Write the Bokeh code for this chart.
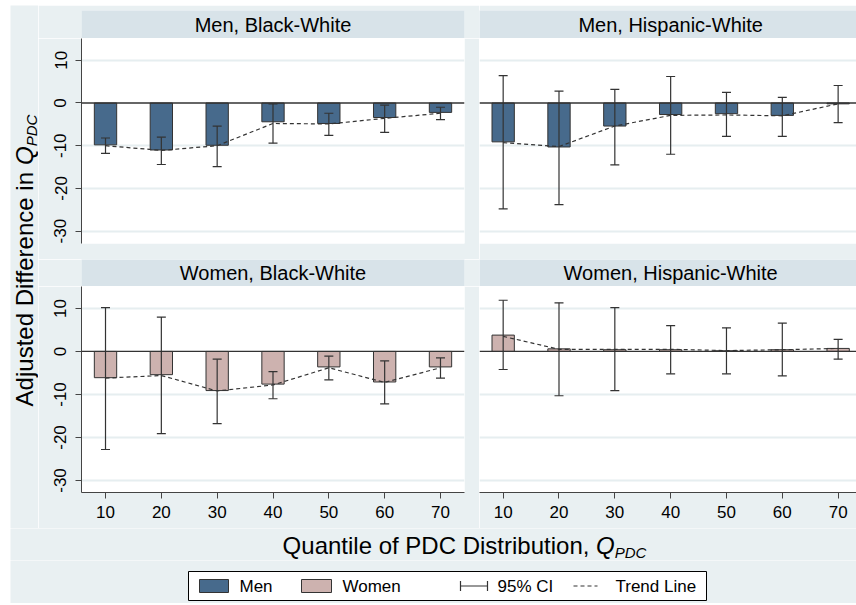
import math
from bokeh.plotting import figure
from bokeh.layouts import column, row
from bokeh.models import (Range1d, LinearAxis, FixedTicker, Grid, Span, Whisker,
                          TeeHead, ColumnDataSource)
from bokeh.core.properties import value
from bokeh.embed import file_html
from bokeh.resources import INLINE

# ---------------- data ----------------
quantiles = [10, 20, 30, 40, 50, 60, 70]
x_tick_labels = ["10", "20", "30", "40", "50", "60", "70"]
y_ticks = [-30, -20, -10, 0, 10]
y_tick_labels = ["-30", "-20", "-10", "0", "10"]
grid_ticks = [-30, -20, -10, 10]

panel_titles = ["Men, Black-White", "Men, Hispanic-White",
                "Women, Black-White", "Women, Hispanic-White"]

men_bw_est = [-9.8, -11.0, -9.9, -4.4, -4.8, -3.4, -2.2]
men_bw_lo = [-11.8, -14.4, -14.9, -9.4, -7.6, -6.9, -3.9]
men_bw_hi = [-8.2, -8.0, -5.4, -0.2, -2.4, -0.5, -1.0]
men_bw_trend = [-10.0, -11.1, -10.0, -4.8, -4.9, -3.6, -2.4]

men_hw_est = [-9.1, -10.3, -5.4, -2.7, -2.5, -2.9, -0.2]
men_hw_lo = [-24.8, -23.8, -14.5, -12.0, -7.8, -7.8, -4.6]
men_hw_hi = [6.4, 2.8, 3.2, 6.2, 2.5, 1.3, 4.1]
men_hw_trend = [-9.3, -10.2, -5.4, -2.9, -2.8, -3.0, -0.2]

women_bw_est = [-6.1, -5.4, -9.1, -7.6, -3.6, -7.1, -3.6]
women_bw_lo = [-22.8, -19.1, -16.8, -11.0, -6.6, -12.2, -6.2]
women_bw_hi = [10.2, 8.0, -1.8, -4.7, -1.1, -2.2, -1.5]
women_bw_trend = [-6.2, -5.6, -9.2, -7.8, -3.8, -7.2, -3.8]

women_hw_est = [3.8, 0.6, 0.4, 0.4, 0.15, 0.4, 0.7]
women_hw_lo = [-4.2, -10.3, -9.1, -5.2, -5.2, -5.7, -1.8]
women_hw_hi = [11.9, 11.3, 10.2, 6.0, 5.5, 6.6, 2.8]
women_hw_trend = [3.5, 0.5, 0.5, 0.5, 0.2, 0.4, 0.7]

y_title_main = "Adjusted Difference in "
x_title_main = "Quantile of PDC Distribution, "
title_q = "Q"
title_sub = "PDC"
legend_labels = ["Men", "Women", "95% CI", "Trend Line"]

# ---------------- style ----------------
BG = "#E9F0F2"
HDR = "#D8E3E9"
GRID = "#E6EEF0"
MEN = "#476A8C"
WOMEN = "#CDB2AF"
INK = "#333333"
AX = "#444444"
FONT = "Liberation Sans"

XL = (5.70, 74.30)
XR = (5.76, 73.29)
YT = (-32.9, 15.1)
YB = (-32.8, 15.1)

# Arial / Liberation Sans advance widths (per 1000 em)
CW = {" ": 278, "A": 667, "d": 556, "j": 222, "u": 556, "s": 500, "t": 278,
      "e": 556, "D": 722, "i": 222, "f": 278, "r": 333, "n": 556, "c": 500,
      "Q": 778, "P": 667, "C": 722, "a": 556, "l": 222, "o": 556, "b": 556,
      ",": 278}


def text_w(s, px):
    return sum(CW.get(ch, 556) for ch in s) / 1000.0 * px


def base_fig(w, h, xr, yr, left=0, right=0, top=0, bottom=0):
    p = figure(width=w, height=h, x_range=Range1d(*xr), y_range=Range1d(*yr),
               x_axis_location=None, y_axis_location=None, tools="",
               toolbar_location=None, output_backend="svg")
    p.min_border = 0
    p.min_border_left = left
    p.min_border_right = right
    p.min_border_top = top
    p.min_border_bottom = bottom
    p.outline_line_color = None
    p.border_fill_color = BG
    p.background_fill_color = "white"
    p.grid.visible = False
    return p


def header(w, h, xr, title, left=0, right=0, top=0):
    p = base_fig(w, h, xr, (0, 1), left=left, right=right, top=top)
    p.background_fill_color = HDR
    cx = (XL[0] + XL[1]) / 2.0
    p.text(x=[cx], y=[0.5], text=[title], text_align="center",
           text_baseline="middle", text_font=value(FONT),
           text_font_size="20px", text_color="black")
    return p


def panel(w, h, xr, yr, est, lo, hi, trend, color, left_axis, bottom_axis,
          left=0, right=0, bottom=0):
    p = base_fig(w, h, xr, yr, left=left, right=right, bottom=bottom)
    p.add_layout(Grid(dimension=1, ticker=FixedTicker(ticks=grid_ticks),
                      grid_line_color=GRID, grid_line_width=2))
    src = ColumnDataSource(dict(x=quantiles, est=est, lo=lo, hi=hi, trend=trend))
    p.vbar(x="x", top="est", bottom=0, width=4, source=src,
           fill_color=color, line_color=INK, line_width=1)
    p.add_layout(Span(location=0, dimension="width", line_color=INK,
                      line_width=1.3))
    wk = Whisker(source=src, base="x", upper="hi", lower="lo",
                 line_color=INK, line_width=1.2, level="annotation",
                 upper_head=TeeHead(size=9, line_color=INK, line_width=1.2),
                 lower_head=TeeHead(size=9, line_color=INK, line_width=1.2))
    p.add_layout(wk)
    p.line("x", "trend", source=src, line_dash="4 3", line_color=INK,
           line_width=1.2)
    if left_axis:
        ax = LinearAxis(ticker=FixedTicker(ticks=y_ticks),
                        major_label_overrides={t: l for t, l in zip(y_ticks, y_tick_labels)},
                        major_label_orientation="parallel",
                        major_tick_out=6, major_tick_in=0,
                        minor_tick_line_color=None,
                        axis_line_color=AX, major_tick_line_color=AX,
                        major_label_text_font=FONT,
                        major_label_text_font_size="17px",
                        major_label_text_color="black",
                        major_label_standoff=9)
        p.add_layout(ax, "left")
    if bottom_axis:
        bx = LinearAxis(ticker=FixedTicker(ticks=quantiles),
                        major_label_overrides={t: l for t, l in zip(quantiles, x_tick_labels)},
                        major_tick_out=6, major_tick_in=0,
                        minor_tick_line_color=None,
                        axis_line_color=AX, major_tick_line_color=AX,
                        major_label_text_font=FONT,
                        major_label_text_font_size="17px",
                        major_label_text_color="black",
                        major_label_standoff=7)
        p.add_layout(bx, "below")
    return p


WL, WR = 441, 377

h_tl = header(WL, 33, XL, panel_titles[0], left=43, right=15, top=5)
h_tr = header(WR, 33, XR, panel_titles[1], top=5)
p_tl = panel(WL, 221, XL, YT, men_bw_est, men_bw_lo, men_bw_hi, men_bw_trend,
             MEN, True, False, left=43, right=15, bottom=16)
p_tr = panel(WR, 221, XR, YT, men_hw_est, men_hw_lo, men_hw_hi, men_hw_trend,
             MEN, False, False, bottom=16)
h_bl = header(WL, 27, XL, panel_titles[2], left=43, right=15)
h_br = header(WR, 27, XR, panel_titles[3])
p_bl = panel(WL, 242, XL, YB, women_bw_est, women_bw_lo, women_bw_hi,
             women_bw_trend, WOMEN, True, True, left=43, right=15, bottom=36)
p_br = panel(WR, 242, XR, YB, women_hw_est, women_hw_lo, women_hw_hi,
             women_hw_trend, WOMEN, False, True, bottom=36)

fs_main, fs_sub = 24, 15
sub_drop = 7

# ---- y-axis title ----
YH = 33 + 221 + 27 + 242
ylab = base_fig(28, YH, (0, 28), (0, YH))
ylab.background_fill_color = BG
wm = text_w(y_title_main, fs_main)
wq = text_w(title_q, fs_main)
wsub = text_w(title_sub, fs_sub)
ystart = 268 - (wm + wq + wsub) / 2.0
xc = 13.5
ylab.text(x=[xc], y=[ystart], text=[y_title_main.rstrip()], angle=math.pi / 2,
          text_align="left", text_baseline="middle", text_font=value(FONT),
          text_font_size=f"{fs_main}px", text_color="black")
ylab.text(x=[xc], y=[ystart + wm], text=[title_q], angle=math.pi / 2,
          text_align="left", text_baseline="middle", text_font=value(FONT),
          text_font_style="italic", text_font_size=f"{fs_main}px", text_color="black")
ylab.text(x=[xc + sub_drop], y=[ystart + wm + wq], text=[title_sub], angle=math.pi / 2,
          text_align="left", text_baseline="middle", text_font=value(FONT),
          text_font_style="italic", text_font_size=f"{fs_sub}px", text_color="black")

# ---- x-axis title ----
TW = 28 + WL + WR
xlab = base_fig(TW, 32, (0, TW), (0, 32))
xlab.background_fill_color = BG
wm = text_w(x_title_main, fs_main)
xstart = 454 - (wm + wq + wsub) / 2.0
yc = 15.5
xlab.text(x=[xstart], y=[yc], text=[x_title_main.rstrip()], text_align="left",
          text_baseline="middle", text_font=value(FONT),
          text_font_size=f"{fs_main}px", text_color="black")
xlab.text(x=[xstart + wm], y=[yc], text=[title_q], text_align="left",
          text_baseline="middle", text_font=value(FONT), text_font_style="italic",
          text_font_size=f"{fs_main}px", text_color="black")
xlab.text(x=[xstart + wm + wq], y=[yc - sub_drop], text=[title_sub], text_align="left",
          text_baseline="middle", text_font=value(FONT), text_font_style="italic",
          text_font_size=f"{fs_sub}px", text_color="black")

# ---- legend ----
LH = 43
leg = base_fig(TW, LH, (0, TW), (0, LH))
leg.background_fill_color = BG
leg.quad(left=[178], right=[696], bottom=[3], top=[32], fill_color="white",
         line_color="black", line_width=1)
cy = 17.5
leg.quad(left=[189], right=[218], bottom=[cy - 6.5], top=[cy + 6.5],
         fill_color=MEN, line_color=INK, line_width=1)
leg.quad(left=[291], right=[321], bottom=[cy - 6.5], top=[cy + 6.5],
         fill_color=WOMEN, line_color=INK, line_width=1)
leg.segment(x0=[450, 450, 477], y0=[cy, cy - 5, cy - 5],
            x1=[477, 450, 477], y1=[cy, cy + 5, cy + 5],
            line_color=INK, line_width=1.2)
leg.line(x=[563, 587], y=[cy, cy], line_dash="4 3", line_color=INK, line_width=1.2)
leg.text(x=[229, 332, 487, 605], y=[cy] * 4, text=legend_labels,
         text_align="left", text_baseline="middle", text_font=value(FONT),
         text_font_size="17px", text_color="black")

panels = column(row(h_tl, h_tr), row(p_tl, p_tr), row(h_bl, h_br), row(p_bl, p_br))
layout = column(row(ylab, panels), xlab, leg)
layout.margin = (5, 0, 0, 10)

open("out.html", "w").write(file_html(layout, INLINE))
